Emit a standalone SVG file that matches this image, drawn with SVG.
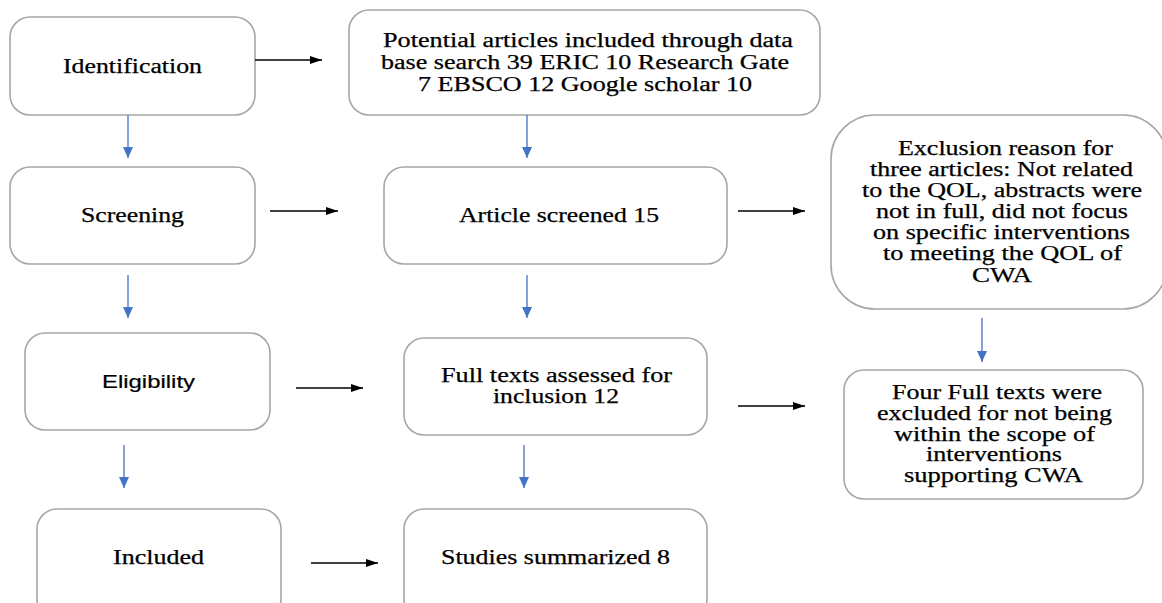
<svg xmlns="http://www.w3.org/2000/svg" width="1162" height="603" viewBox="0 0 1162 603">
<style>
.box{fill:#fff;stroke:#a6a6a6;stroke-width:1.6}
.t{font-family:"Liberation Serif","Times New Roman",serif;font-size:20px;fill:#000;stroke:#000;stroke-width:0.25;text-anchor:start}
.s{font-family:"Liberation Sans",Arial,sans-serif;font-size:19px;fill:#000;stroke:#000;stroke-width:0.2}
.blk{stroke:#000;stroke-width:1.3;fill:none}
.blu{stroke:#4472c4;stroke-width:1.3;fill:none}
</style>
<defs>
<marker id="ab" markerUnits="userSpaceOnUse" markerWidth="12" markerHeight="8" refX="12" refY="4" orient="auto"><path d="M0,0 L12,4 L0,8 z" fill="#000"/></marker>
<marker id="au" markerUnits="userSpaceOnUse" markerWidth="11" markerHeight="10" refX="11" refY="5" orient="auto"><path d="M0,0 L11,5 L0,10 z" fill="#4472c4"/></marker>
</defs>
<rect width="1162" height="603" fill="#fff"/>
<g id="identification"><rect class="box" x="10" y="17" width="245" height="98" rx="20"/><text class="t" x="63" y="73" textLength="139" lengthAdjust="spacingAndGlyphs">Identification</text></g>
<g id="potential"><rect class="box" x="349" y="10" width="471" height="105" rx="20"/>
<text class="t" x="383" y="47" textLength="410" lengthAdjust="spacingAndGlyphs">Potential articles included through data</text>
<text class="t" x="381" y="69" textLength="408" lengthAdjust="spacingAndGlyphs">base search 39 ERIC 10 Research Gate</text>
<text class="t" x="418" y="91" textLength="334" lengthAdjust="spacingAndGlyphs">7 EBSCO 12 Google scholar 10</text></g>
<g id="screening"><rect class="box" x="10" y="167" width="245" height="97" rx="20"/><text class="t" x="81" y="222" textLength="103" lengthAdjust="spacingAndGlyphs">Screening</text></g>
<g id="article"><rect class="box" x="384" y="167" width="343" height="97" rx="20"/><text class="t" x="459" y="222" textLength="200" lengthAdjust="spacingAndGlyphs">Article screened 15</text></g>
<g id="exclusion"><rect class="box" x="831" y="115" width="336" height="194" rx="44"/>
<text class="t" x="898" y="155" textLength="215" lengthAdjust="spacingAndGlyphs">Exclusion reason for</text>
<text class="t" x="870" y="176" textLength="263" lengthAdjust="spacingAndGlyphs">three articles: Not related</text>
<text class="t" x="862" y="197" textLength="280" lengthAdjust="spacingAndGlyphs">to the QOL, abstracts were</text>
<text class="t" x="876" y="218" textLength="252" lengthAdjust="spacingAndGlyphs">not in full, did not focus</text>
<text class="t" x="873" y="239" textLength="257" lengthAdjust="spacingAndGlyphs">on specific interventions</text>
<text class="t" x="883" y="260" textLength="239" lengthAdjust="spacingAndGlyphs">to meeting the QOL of</text>
<text class="t" x="972" y="282" textLength="60" lengthAdjust="spacingAndGlyphs">CWA</text></g>
<g id="eligibility"><rect class="box" x="25" y="333" width="245" height="97" rx="20"/><text class="s" x="102" y="388" textLength="93" lengthAdjust="spacingAndGlyphs">Eligibility</text></g>
<g id="fulltexts"><rect class="box" x="404" y="338" width="303" height="97" rx="20"/>
<text class="t" x="441" y="382" textLength="231" lengthAdjust="spacingAndGlyphs">Full texts assessed for</text>
<text class="t" x="493" y="403" textLength="126" lengthAdjust="spacingAndGlyphs">inclusion 12</text></g>
<g id="four"><rect class="box" x="844" y="370" width="299" height="129" rx="20"/>
<text class="t" x="892" y="399" textLength="210" lengthAdjust="spacingAndGlyphs">Four Full texts were</text>
<text class="t" x="877" y="420" textLength="235" lengthAdjust="spacingAndGlyphs">excluded for not being</text>
<text class="t" x="894" y="441" textLength="201" lengthAdjust="spacingAndGlyphs">within the scope of</text>
<text class="t" x="926" y="461" textLength="136" lengthAdjust="spacingAndGlyphs">interventions</text>
<text class="t" x="904" y="482" textLength="179" lengthAdjust="spacingAndGlyphs">supporting CWA</text></g>
<g id="included"><rect class="box" x="37" y="509" width="244" height="110" rx="20"/><text class="t" x="113" y="564" textLength="91" lengthAdjust="spacingAndGlyphs">Included</text></g>
<g id="studies"><rect class="box" x="404" y="509" width="303" height="110" rx="20"/><text class="t" x="441" y="564" textLength="229" lengthAdjust="spacingAndGlyphs">Studies summarized 8</text></g>
<g id="connectors">
<line class="blk" x1="255" y1="60" x2="322" y2="60" marker-end="url(#ab)"/>
<line class="blk" x1="270" y1="211" x2="338" y2="211" marker-end="url(#ab)"/>
<line class="blk" x1="738" y1="211" x2="805" y2="211" marker-end="url(#ab)"/>
<line class="blk" x1="296" y1="388" x2="363" y2="388" marker-end="url(#ab)"/>
<line class="blk" x1="738" y1="406" x2="805" y2="406" marker-end="url(#ab)"/>
<line class="blk" x1="311" y1="563" x2="378" y2="563" marker-end="url(#ab)"/>
<line class="blu" x1="128" y1="115" x2="128" y2="158" marker-end="url(#au)"/>
<line class="blu" x1="128" y1="275" x2="128" y2="318" marker-end="url(#au)"/>
<line class="blu" x1="124" y1="445" x2="124" y2="488" marker-end="url(#au)"/>
<line class="blu" x1="527" y1="115" x2="527" y2="158" marker-end="url(#au)"/>
<line class="blu" x1="527" y1="275" x2="527" y2="318" marker-end="url(#au)"/>
<line class="blu" x1="524" y1="445" x2="524" y2="488" marker-end="url(#au)"/>
<line class="blu" x1="982" y1="318" x2="982" y2="362" marker-end="url(#au)"/>
</g>
</svg>
